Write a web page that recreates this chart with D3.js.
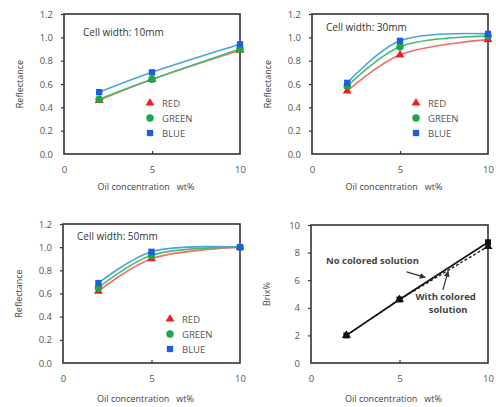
<!DOCTYPE html>
<html>
<head>
<meta charset="utf-8">
<script src="https://cdn.jsdelivr.net/npm/d3@7"></script>
<style>
body { margin: 0; background: #fff; }
text { font-family: "Open Sans", sans-serif; white-space: pre; }
</style>
</head>
<body>
<div id="c"></div>
<script>
// oil concentration, wt%
var conc = [2, 5, 10];

// reflectance per cell width
var red10 = [0.46, 0.64, 0.89];
var green10 = [0.47, 0.64, 0.90];
var blue10 = [0.53, 0.70, 0.94];

var red30 = [0.54, 0.85, 0.98];
var green30 = [0.58, 0.92, 1.01];
var blue30 = [0.61, 0.97, 1.03];

var red50 = [0.62, 0.90, 1.00];
var green50 = [0.65, 0.93, 1.00];
var blue50 = [0.69, 0.96, 1.00];

// brix
var brixNo = [2.0, 4.6, 8.75];
var brixWith = [2.0, 4.6, 8.45];

var xTicks = [0, 5, 10];
var reflTicks = [0, 0.2, 0.4, 0.6, 0.8, 1.0, 1.2];
var brixTicks = [0, 2, 4, 6, 8, 10];
var legendNames = ['RED', 'GREEN', 'BLUE'];

var width = 496;
var height = 407;

var svg = d3.select('#c').append('svg')
	.attr('width', width)
	.attr('height', height);

var marker_col = ['#ee1c25', '#1ea64a', '#1c5fe0'];
var line_col = ['#f46b6b', '#3fbf72', '#4aa3dc'];
var symbols = [d3.symbolTriangle, d3.symbolCircle, d3.symbolSquare];
var sym_size = [34, 44, 40];

function panel(x0, x1, y0, y1, ydom, yticks, yfmt, ytitle, xt_off) {
	var g = svg.append('g');
	var xs = d3.scaleLinear().domain([0, 10]).range([x0, x1]);
	var ys = d3.scaleLinear().domain(ydom).range([y1, y0]);

	g.append('rect')
		.attr('x', x0).attr('y', y0)
		.attr('width', x1 - x0).attr('height', y1 - y0)
		.attr('fill', '#fff');

	var ya = g.append('g')
		.attr('transform', 'translate(' + x0 + ',0)')
		.call(d3.axisLeft(ys).tickValues(yticks).tickFormat(yfmt).tickSize(3).tickPadding(8));
	var xa = g.append('g')
		.attr('transform', 'translate(0,' + y1 + ')')
		.call(d3.axisBottom(xs).tickValues(xTicks).tickSize(-3).tickPadding(12));
	g.selectAll('.domain').remove();
	g.selectAll('.tick line').attr('stroke', '#333').attr('stroke-width', 1.2);
	g.selectAll('.tick text').attr('fill', '#555').attr('font-size', 9.5);
	ya.select('.tick:first-child line').remove();
	xa.selectAll('.tick').filter(function(d) { return d != 5; }).select('line').remove();

	g.append('rect')
		.attr('x', x0).attr('y', y0)
		.attr('width', x1 - x0).attr('height', y1 - y0)
		.attr('fill', 'none')
		.attr('stroke', '#333')
		.attr('stroke-width', 1.6);

	g.append('text')
		.attr('x', (x0 + x1) / 2 - 6)
		.attr('y', y1 + xt_off)
		.attr('text-anchor', 'middle')
		.attr('font-size', 9)
		.attr('fill', '#444')
		.text('Oil concentration   wt%');

	g.append('text')
		.attr('transform', 'translate(' + (x0 - 41) + ',' + ((y0 + y1) / 2) + ') rotate(-90)')
		.attr('text-anchor', 'middle')
		.attr('font-size', 9)
		.attr('fill', '#444')
		.text(ytitle);

	return { g: g, x: xs, y: ys };
}

function reflPanel(p, series, title, tx, ty, lx, ly) {
	var line = d3.line()
		.x(function(d, i) { return p.x(conc[i]); })
		.y(function(d) { return p.y(d); })
		.curve(d3.curveCatmullRom.alpha(0.5));

	for (var s = 0; s < 3; s++) {
		p.g.append('path')
			.attr('d', line(series[s]))
			.attr('fill', 'none')
			.attr('stroke', line_col[s])
			.attr('stroke-width', 1.6);
	}
	for (var s = 0; s < 3; s++) {
		p.g.selectAll('.pt' + s)
			.data(series[s])
			.enter()
			.append('path')
			.attr('d', d3.symbol().type(symbols[s]).size(sym_size[s]))
			.attr('transform', function(d, i) { return 'translate(' + p.x(conc[i]) + ',' + p.y(d) + ')'; })
			.attr('fill', marker_col[s]);
	}

	p.g.append('text')
		.attr('x', tx).attr('y', ty)
		.attr('font-size', 10)
		.attr('fill', '#333')
		.text(title);

	for (var s = 0; s < 3; s++) {
		p.g.append('path')
			.attr('d', d3.symbol().type(symbols[s]).size(sym_size[s]))
			.attr('transform', 'translate(' + lx + ',' + (ly + s * 15) + ')')
			.attr('fill', marker_col[s]);
		p.g.append('text')
			.attr('x', lx + 12).attr('y', ly + s * 15 + 3.5)
			.attr('font-size', 9.5)
			.attr('fill', '#555')
			.text(legendNames[s]);
	}
}

var fmt1 = d3.format('.1f');

var p1 = panel(64, 240, 14, 154, [0, 1.2], reflTicks, fmt1, 'Reflectance', 36);
reflPanel(p1, [red10, green10, blue10], 'Cell width: 10mm', 83, 36, 150, 103);

var p2 = panel(312, 488, 14, 154, [0, 1.2], reflTicks, fmt1, 'Reflectance', 36);
reflPanel(p2, [red30, green30, blue30], 'Cell width: 30mm', 326, 31, 416, 103);

var p3 = panel(63, 240, 224, 363, [0, 1.2], reflTicks, fmt1, 'Reflectance', 39);
reflPanel(p3, [red50, green50, blue50], 'Cell width: 50mm', 77, 240, 170, 319);

var p4 = panel(311, 488, 225, 363, [0, 10], brixTicks, d3.format('d'), 'Brix%', 39);

var bline = d3.line()
	.x(function(d, i) { return p4.x(conc[i]); })
	.y(function(d) { return p4.y(d); });

p4.g.append('path')
	.attr('d', bline(brixWith))
	.attr('fill', 'none')
	.attr('stroke', '#222')
	.attr('stroke-width', 1.4)
	.attr('stroke-dasharray', '3,2');
p4.g.append('path')
	.attr('d', bline(brixNo))
	.attr('fill', 'none')
	.attr('stroke', '#111')
	.attr('stroke-width', 1.6);

p4.g.selectAll('.sq')
	.data(brixNo)
	.enter()
	.append('path')
	.attr('d', d3.symbol().type(d3.symbolSquare).size(36))
	.attr('transform', function(d, i) { return 'translate(' + p4.x(conc[i]) + ',' + p4.y(d) + ')'; })
	.attr('fill', '#111');
p4.g.selectAll('.tri')
	.data(brixWith)
	.enter()
	.append('path')
	.attr('d', d3.symbol().type(d3.symbolTriangle).size(34))
	.attr('transform', function(d, i) { return 'translate(' + p4.x(conc[i]) + ',' + p4.y(d) + ')'; })
	.attr('fill', '#111');

// annotations
svg.append('defs').append('marker')
	.attr('id', 'ah')
	.attr('viewBox', '0 0 10 10')
	.attr('refX', 9).attr('refY', 5)
	.attr('markerWidth', 5).attr('markerHeight', 5)
	.attr('orient', 'auto')
	.append('path')
	.attr('d', 'M0,0L10,5L0,10z')
	.attr('fill', '#333');

var arrows = [
	{ x1: 5.4, y1: 6.6, x2: 6.45, y2: 6.2 },
	{ x1: 7.45, y1: 5.3, x2: 7.75, y2: 6.65 }
];
p4.g.selectAll('.arr')
	.data(arrows)
	.enter()
	.append('line')
	.attr('x1', function(d) { return p4.x(d.x1); })
	.attr('y1', function(d) { return p4.y(d.y1); })
	.attr('x2', function(d) { return p4.x(d.x2); })
	.attr('y2', function(d) { return p4.y(d.y2); })
	.attr('stroke', '#333')
	.attr('stroke-width', 1.2)
	.attr('marker-end', 'url(#ah)');

var notes = [
	{ x: 0.85, y: 7.2, anchor: 'start', t: 'No colored solution' },
	{ x: 5.9, y: 4.55, anchor: 'start', t: 'With colored' },
	{ x: 7.75, y: 3.6, anchor: 'middle', t: 'solution' }
];
p4.g.selectAll('.note')
	.data(notes)
	.enter()
	.append('text')
	.attr('x', function(d) { return p4.x(d.x); })
	.attr('y', function(d) { return p4.y(d.y); })
	.attr('text-anchor', function(d) { return d.anchor; })
	.attr('font-size', 9.5)
	.attr('font-weight', 'bold')
	.attr('fill', '#444')
	.text(function(d) { return d.t; });
</script>
</body>
</html>
